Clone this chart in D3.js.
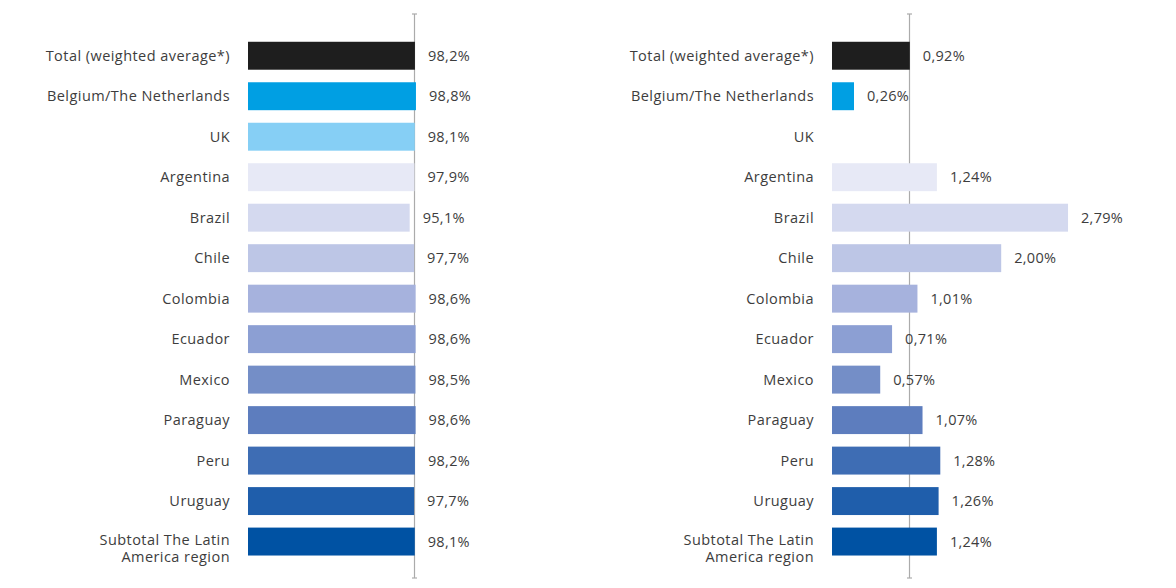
<!DOCTYPE html>
<html>
<head>
<meta charset="utf-8">
<script src="https://cdn.jsdelivr.net/npm/d3@7"></script>
<style>
  body { margin: 0; background: #fff; }
  text { font-family: "Open Sans", sans-serif; fill: #3d3d3d; }
</style>
</head>
<body>
<svg id="svg" width="1176" height="588"></svg>
<script>
var categories = ["Total (weighted average*)", "Belgium/The Netherlands", "UK", "Argentina", "Brazil", "Chile",
    "Colombia", "Ecuador", "Mexico", "Paraguay", "Peru", "Uruguay", "Subtotal The Latin America region"];
var leftValues = [98.2, 98.8, 98.1, 97.9, 95.1, 97.7, 98.6, 98.6, 98.5, 98.6, 98.2, 97.7, 98.1];
var rightValues = [0.92, 0.26, null, 1.24, 2.79, 2.00, 1.01, 0.71, 0.57, 1.07, 1.28, 1.26, 1.24];
var colors = ["#1e1e1e", "#009fe3", "#86cff5", "#e7e9f6", "#d4d9ef", "#bdc6e6", "#a6b2dd", "#8c9fd3",
    "#748ec7", "#5d7dbe", "#3e6db4", "#1f5eab", "#0052a3"];

var svg = d3.select("svg");
var locale = d3.formatLocale({ decimal: ",", thousands: ".", grouping: [3], currency: ["", "€"] });

var yScale = d3.scaleBand()
    .domain(categories)
    .range([35.5, 561.8])
    .paddingInner(0.31)
    .paddingOuter(0.155);

function drawPanel(values, xScale, labelX, fmt, refValue) {
    var g = svg.append("g");

    // reference line with little caps
    var lx = Math.round(xScale(refValue)) - 0.5;
    g.append("line").attr("x1", lx).attr("x2", lx).attr("y1", 14).attr("y2", 578)
        .attr("stroke", "#ababab").attr("stroke-width", 1.2);
    g.append("line").attr("x1", lx - 2.5).attr("x2", lx + 2.5).attr("y1", 14).attr("y2", 14)
        .attr("stroke", "#ababab").attr("stroke-width", 1.2);
    g.append("line").attr("x1", lx - 2.5).attr("x2", lx + 2.5).attr("y1", 578).attr("y2", 578)
        .attr("stroke", "#ababab").attr("stroke-width", 1.2);

    var rows = categories.map(function (c, i) { return { cat: c, v: values[i], color: colors[i] }; });

    g.selectAll("rect")
        .data(rows.filter(function (d) { return d.v != null; }))
        .enter().append("rect")
        .attr("x", xScale(0))
        .attr("y", function (d) { return yScale(d.cat); })
        .attr("width", function (d) { return xScale(d.v) - xScale(0); })
        .attr("height", yScale.bandwidth())
        .attr("fill", function (d) { return d.color; });

    g.selectAll(".val")
        .data(rows.filter(function (d) { return d.v != null; }))
        .enter().append("text")
        .attr("class", "val")
        .attr("x", function (d) { return xScale(d.v) + 13; })
        .attr("y", function (d) { return yScale(d.cat) + yScale.bandwidth() / 2; })
        .attr("dy", "0.35em")
        .attr("font-size", 14.5)
        .attr("letter-spacing", 0.3)
        .text(function (d) { return fmt(d.v) + "%"; });

    var labels = g.selectAll(".cat")
        .data(rows)
        .enter().append("text")
        .attr("class", "cat")
        .attr("x", labelX)
        .attr("y", function (d) { return yScale(d.cat) + yScale.bandwidth() / 2; })
        .attr("dy", "0.35em")
        .attr("text-anchor", "end")
        .attr("font-size", 14.5)
        .attr("letter-spacing", 0.45);

    labels.each(function (d) {
        var t = d3.select(this);
        if (d.cat.indexOf("Subtotal") === 0) {
            t.attr("y", yScale(d.cat) + yScale.bandwidth() / 2 - 1.5);
            t.append("tspan").attr("x", labelX).text("Subtotal The Latin");
            t.append("tspan").attr("x", labelX).attr("dy", 17).text("America region");
        } else {
            t.text(d.cat);
        }
    });
}

var xLeft = d3.scaleLinear().domain([0, 100]).range([248, 418]);
var xRight = d3.scaleLinear().domain([0, 3]).range([832, 1085.8]);

drawPanel(leftValues, xLeft, 230, locale.format(".1f"), leftValues[0]);
drawPanel(rightValues, xRight, 814, locale.format(".2f"), rightValues[0]);
</script>
</body>
</html>
